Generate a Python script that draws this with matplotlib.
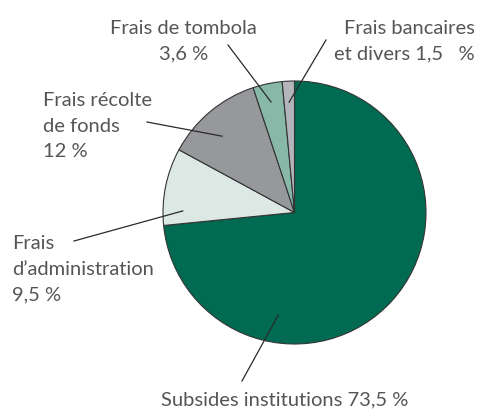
import matplotlib.pyplot as plt
import numpy as np

labels = ['Subsides institutions 73,5 %',
          'Frais\nd\u2019administration\n9,5 %',
          'Frais récolte\nde fonds\n12 %',
          'Frais de tombola\n3,6 %',
          'Frais bancaires\net divers 1,5   %']
values = [73.5, 9.5, 12, 3.6, 1.5]
colors = ['#006b52', '#dce8e4', '#97989c', '#87b8a8', '#b4b5ba']

W, H = 478, 410
CX, CY, R = 294.5, H - 213.5, 131.5

# label layout: text x, last-line baseline (pixels from top), alignment,
# leader outer end (pixels), leader inner end as (angle deg, radius fraction)
layout = [
    (285, 405, 'center', (242, 382), (-99, 0.79)),
    (12, 300, 'left', (74, 242), (179.2, 0.85)),
    (43, 157, 'left', (147, 123), (133.5, 0.80)),
    (183.5, 59, 'center', (228, 46), (102, 0.86)),
    (475, 59, 'right', (326, 41), (92.8, 0.84)),
]

plt.rcParams['font.family'] = ['Lato', 'DejaVu Sans']
fig = plt.figure(figsize=(W / 100, H / 100), dpi=100)
ax = fig.add_axes([0, 0, 1, 1])

ax.pie(values, colors=colors, startangle=90, counterclock=False,
       center=(CX, CY), radius=R,
       wedgeprops=dict(edgecolor='#333333', linewidth=0.8))
ax.set_xlim(0, W)
ax.set_ylim(0, H)
ax.set_aspect('equal')
ax.axis('off')

for lab, (tx, ty, ha, outer, inner) in zip(labels, layout):
    ang, frac = inner
    ix = CX + R * frac * np.cos(np.radians(ang))
    iy = CY + R * frac * np.sin(np.radians(ang))
    ax.plot([outer[0], ix], [H - outer[1], iy], color='#2a2a2a', lw=0.9)
    ax.text(tx, H - ty, lab, ha=ha, va='baseline', multialignment=ha,
            fontsize=14.5, color='#555555', linespacing=1.6)

fig.savefig('out.png', dpi=100)
